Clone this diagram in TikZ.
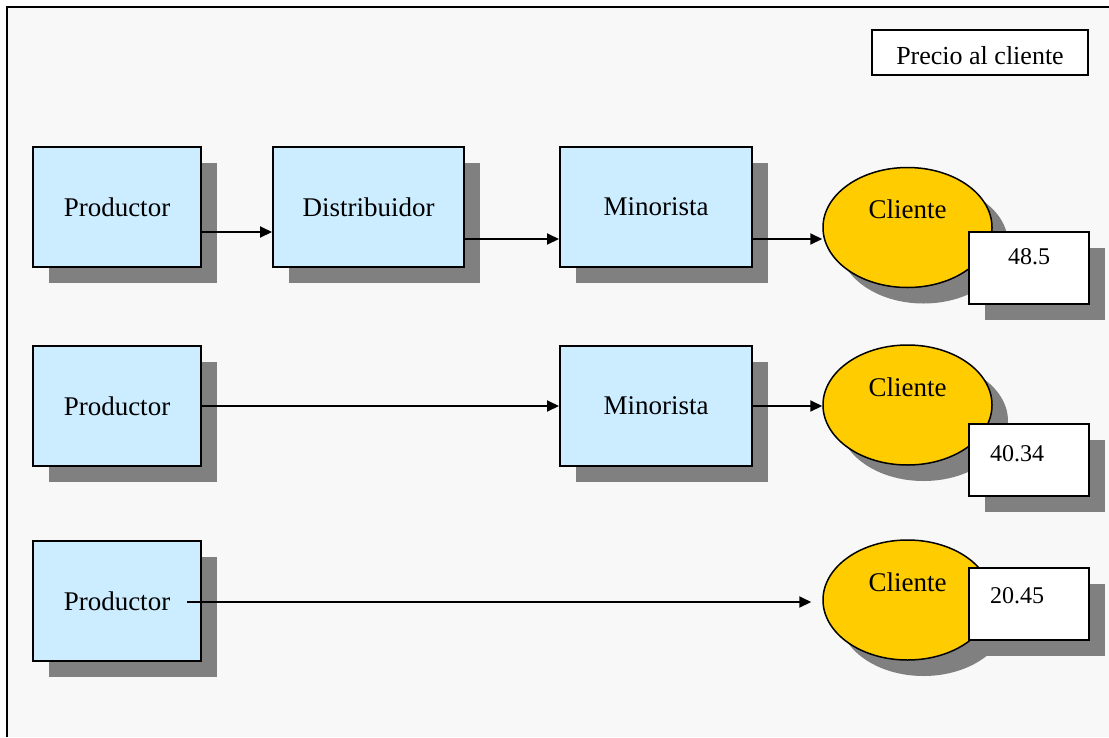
\documentclass[tikz,border=0pt]{standalone}
\usepackage{fontspec}
\setmainfont{Liberation Serif}
\usetikzlibrary{arrows.meta,shadows,shapes.geometric,calc}
\definecolor{panel}{HTML}{F8F8F8}
\definecolor{boxblue}{HTML}{CCECFF}
\definecolor{clientgold}{HTML}{FFCC00}
\definecolor{shade}{HTML}{808080}
\begin{document}
\begin{tikzpicture}[x=1pt,y=-1pt,
  shade16/.style={drop shadow={shadow xshift=16pt,shadow yshift=-16pt,fill=shade,opacity=1}},
  stage/.style={draw=black,line width=2pt,fill=boxblue,shade16,minimum height=120pt,
    inner sep=0pt,anchor=north west,font=\fontsize{27}{31}\selectfont},
  client/.style={ellipse,draw=black,line width=1.5pt,fill=clientgold,shade16,
    minimum width=169pt,minimum height=120pt,inner sep=0pt},
  price/.style={draw=black,line width=2pt,fill=white,shade16,minimum width=120pt,
    minimum height=72pt,inner sep=0pt,anchor=north west},
  lbl/.style={inner sep=0pt,font=\fontsize{27}{31}\selectfont},
  num/.style={inner sep=0pt,font=\fontsize{24}{28}\selectfont},
  legendbox/.style={draw=black,line width=2pt,fill=white,minimum width=216pt,
    minimum height=45pt,inner sep=0pt,text height=23pt,text depth=0pt,
    font=\fontsize{26}{30}\selectfont},
  arr/.style={line width=2pt,-{Triangle[length=12pt,width=11pt]}}]

\useasboundingbox (0,0) rectangle (1109,737);
% page and panel
\fill[white] (0,0) rectangle (1109,737);
\fill[panel] (7,7) rectangle (1109,737);
\draw[line width=2.5pt] (7,737) -- (7,7) -- (1109,7);

% legend
\node[legendbox] (legend) at (980,52.5) {Precio al cliente};

% row 1: productor -> distribuidor -> minorista -> cliente
\node[stage,minimum width=168pt] (p1) at (32,146) {Productor};
\node[stage,minimum width=191pt] (d1) at (272,146) {Distribuidor};
\node[stage,minimum width=192pt] (m1) at (559,146) {Minorista};
\node[client] (c1) at (907.5,227.5) {};
\node[lbl] (c1t) at ($(c1.center)+(0,-18)$) {Cliente};
\node[price] (v1) at (968,231) {};
\node[num] (v1t) at (1029,257) {48.5};

% row 2: productor -> minorista -> cliente
\node[stage,minimum width=168pt] (p2) at (32,345) {Productor};
\node[stage,minimum width=192pt] (m2) at (559,345) {Minorista};
\node[client] (c2) at (907.5,405) {};
\node[lbl] (c2t) at ($(c2.center)+(0,-18)$) {Cliente};
\node[price] (v2) at (968,423) {};
\node[num] (v2t) at (1017,454) {40.34};

% row 3: productor -> cliente
\node[stage,minimum width=168pt] (p3) at (32,540) {Productor};
\node[client] (c3) at (907.5,600) {};
\node[lbl] (c3t) at ($(c3.center)+(0,-18)$) {Cliente};
\node[price] (v3) at (968,567) {};
\node[num] (v3t) at (1017,596) {20.45};

% connectors
\draw[arr] ([yshift=-25pt]p1.east) -- ([yshift=-25pt]d1.west);
\draw[arr] ([yshift=-32pt]d1.east) -- ([yshift=-32pt]m1.west);
\draw[arr] ([yshift=-32pt]m1.east) -- ([yshift=-32pt]m1.east -| c1.west);
\draw[arr] (p2.east) -- (m2.west);
\draw[arr] (m2.east) -- (m2.east -| c2.west);
\coordinate (s3) at (187,602);
\draw[arr,shorten >=11pt] (s3) -- (s3 -| c3.west);
\end{tikzpicture}
\end{document}
